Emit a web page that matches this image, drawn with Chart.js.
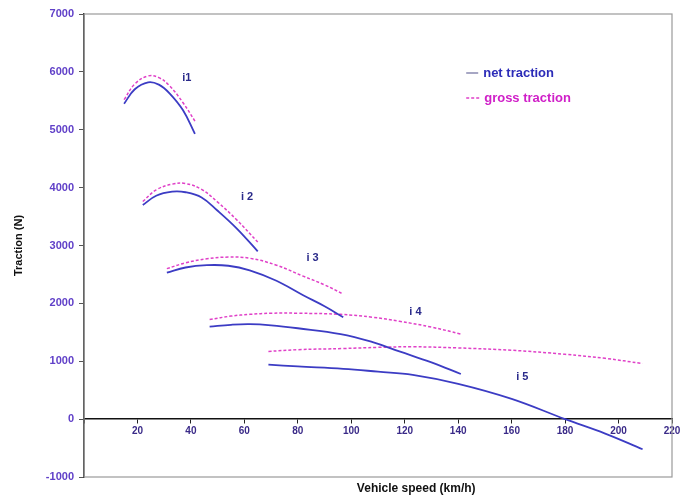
<!DOCTYPE html>
<html>
<head>
<meta charset="utf-8">
<script src="https://cdn.jsdelivr.net/npm/chart.js@4/dist/chart.umd.min.js"></script>
<style>
  html, body { margin: 0; padding: 0; background: #fff; }
  #wrap { width: 683px; height: 497px; }
</style>
</head>
<body>
<div id="wrap"><canvas id="c" width="683" height="497"></canvas></div>
<script>
// Vehicle speed (km/h) and traction (N) per gear
const g1Speed = [15, 19, 24, 28, 32, 37, 41.5];
const g1Net   = [5450, 5700, 5820, 5780, 5630, 5340, 4930];
const g1Gross = [5520, 5790, 5930, 5900, 5760, 5470, 5150];

const g2Speed = [22, 27, 33, 38, 44, 50, 57, 65];
const g2Net   = [3700, 3860, 3930, 3920, 3830, 3600, 3300, 2900];
const g2Gross = [3760, 3960, 4060, 4070, 3970, 3750, 3450, 3060];

const g3Speed = [31, 38, 46, 54, 62, 72, 82, 90, 97];
const g3Net   = [2530, 2620, 2660, 2650, 2570, 2390, 2140, 1950, 1760];
const g3Gross = [2600, 2700, 2770, 2800, 2780, 2660, 2470, 2320, 2160];

const g4Speed = [47, 55, 62, 70, 80, 96, 108, 118, 130, 141];
const g4Net   = [1600, 1630, 1640, 1620, 1570, 1470, 1330, 1170, 980, 780];
const g4Gross = [1720, 1780, 1810, 1830, 1830, 1810, 1760, 1690, 1590, 1470];

const g5Speed = [69, 80, 97, 110, 123, 140, 160, 180, 195, 209];
const g5Net   = [940, 910, 870, 820, 765, 610, 350, 0, -250, -520];
const g5Gross = [1170, 1200, 1220, 1240, 1250, 1230, 1190, 1120, 1050, 960];

const gearNames = ['i1', 'i 2', 'i 3', 'i 4', 'i 5'];
// where each gear name sits, in speed / traction units
const gearNameSpeed = [38.5, 61, 85.5, 124, 164];
const gearNameTraction = [5900, 3840, 2780, 1860, 730];

const xTicksMin = 0, xTicksMax = 220, xStep = 20;
const yTicksMin = -1000, yTicksMax = 7000, yStep = 1000;

const NET_COLOR = '#3c3cc4';
const GROSS_COLOR = '#e040c8';

const gears = [
  [g1Speed, g1Net, g1Gross],
  [g2Speed, g2Net, g2Gross],
  [g3Speed, g3Net, g3Gross],
  [g4Speed, g4Net, g4Gross],
  [g5Speed, g5Net, g5Gross]
];

const pts = (xs, ys) => xs.map((x, i) => ({ x: x, y: ys[i] }));

const datasets = [];
gears.forEach(([sp, net, gross], k) => {
  datasets.push({
    label: 'gross traction ' + gearNames[k],
    data: pts(sp, gross),
    borderColor: GROSS_COLOR,
    borderWidth: 1.5,
    borderDash: [3, 2],
    pointRadius: 0,
    showLine: true,
    fill: false,
    tension: 0.4
  });
  datasets.push({
    label: 'net traction ' + gearNames[k],
    data: pts(sp, net),
    borderColor: NET_COLOR,
    borderWidth: 1.8,
    pointRadius: 0,
    showLine: true,
    fill: false,
    tension: 0.4
  });
});

// grey frame around the plotting area
const framePlugin = {
  id: 'frame',
  beforeDatasetsDraw(chart) {
    const { ctx, chartArea: a } = chart;
    ctx.save();
    ctx.strokeStyle = '#9a9a9a';
    ctx.lineWidth = 1.2;
    ctx.strokeRect(a.left, a.top, a.right - a.left, a.bottom - a.top);
    ctx.restore();
  }
};

// gear names, legend and bottom axis title
const notesPlugin = {
  id: 'notes',
  afterDatasetsDraw(chart) {
    const { ctx, chartArea: a } = chart;
    const xs = chart.scales.x, ys = chart.scales.y;
    ctx.save();
    ctx.font = 'bold 11px "Liberation Sans", Arial, sans-serif';
    ctx.fillStyle = '#2a2a8a';
    ctx.textAlign = 'center';
    ctx.textBaseline = 'middle';
    gearNames.forEach((n, i) => {
      ctx.fillText(n, xs.getPixelForValue(gearNameSpeed[i]), ys.getPixelForValue(gearNameTraction[i]));
    });

    // legend
    const lx = a.left + (a.right - a.left) * 0.65;
    const ly = a.top + 59;
    ctx.lineWidth = 1.5;
    ctx.strokeStyle = '#8a8ab0';
    ctx.beginPath(); ctx.moveTo(lx, ly); ctx.lineTo(lx + 12, ly); ctx.stroke();
    ctx.strokeStyle = GROSS_COLOR;
    ctx.setLineDash([3, 2]);
    ctx.beginPath(); ctx.moveTo(lx, ly + 25); ctx.lineTo(lx + 14, ly + 25); ctx.stroke();
    ctx.setLineDash([]);
    ctx.font = 'bold 13px "Liberation Sans", Arial, sans-serif';
    ctx.textAlign = 'left';
    ctx.fillStyle = '#2c2cb8';
    ctx.fillText('net traction', lx + 17, ly);
    ctx.fillStyle = '#d020c8';
    ctx.fillText('gross traction', lx + 18, ly + 25);

    // bottom axis title
    ctx.font = 'bold 12px "Liberation Sans", Arial, sans-serif';
    ctx.fillStyle = '#111';
    ctx.textAlign = 'center';
    ctx.fillText('Vehicle speed (km/h)', a.left + (a.right - a.left) * 0.565, a.bottom + 12);
    ctx.restore();
  }
};

new Chart(document.getElementById('c'), {
  type: 'scatter',
  data: { datasets: datasets },
  options: {
    responsive: false,
    animation: false,
    layout: { padding: { left: 0, top: 14, right: 11, bottom: 20 } },
    plugins: {
      legend: { display: false },
      tooltip: { enabled: false }
    },
    scales: {
      x: {
        type: 'linear',
        min: xTicksMin,
        max: xTicksMax,
        position: { y: 0 },
        grid: { display: true, drawOnChartArea: false, drawTicks: true, tickLength: 4, color: '#222' },
        border: { display: true, color: '#111', width: 1.5 },
        ticks: {
          stepSize: xStep,
          padding: 2,
          color: '#3a2a88',
          font: { family: '"Liberation Sans", Arial, sans-serif', size: 10, weight: 'bold' },
          maxRotation: 0,
          callback: (v) => (v === 0 ? '' : String(v))
        }
      },
      y: {
        type: 'linear',
        min: yTicksMin,
        max: yTicksMax,
        position: 'left',
        afterFit(scale) { scale.width = 84; },
        grid: { display: true, drawOnChartArea: false, drawTicks: true, tickLength: 5, color: '#555' },
        border: { display: true, color: '#111', width: 1.5 },
        ticks: {
          stepSize: yStep,
          padding: 5,
          color: '#6040c8',
          font: { family: '"Liberation Sans", Arial, sans-serif', size: 11, weight: 'bold' },
          callback: (v) => String(v)
        },
        title: {
          display: true,
          text: 'Traction (N)',
          color: '#111',
          padding: { top: 12, bottom: 0 },
          font: { family: '"Liberation Sans", Arial, sans-serif', size: 11, weight: 'bold' }
        }
      }
    }
  },
  plugins: [framePlugin, notesPlugin]
});
</script>
</body>
</html>
